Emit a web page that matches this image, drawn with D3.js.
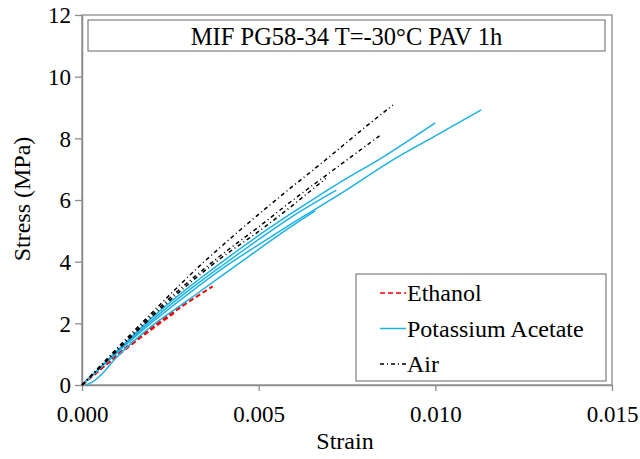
<!DOCTYPE html>
<html>
<head>
<meta charset="utf-8">
<script src="https://cdn.jsdelivr.net/npm/d3@7"></script>
<style>
  body { margin: 0; background: #fff; }
</style>
</head>
<body>
<div id="chart"></div>
<script>
// ---- data (strain, stress MPa) ----
var ethanol1 = [[0,0],[0.0005,0.5],[0.001,0.97],[0.0019,1.8],[0.0028,2.53],[0.0037,3.2]];
var ethanol2 = [[0,0],[0.001,0.99],[0.002,1.88],[0.0029,2.62]];
var ethanol3 = [[0,0],[0.001,0.95],[0.002,1.83],[0.0026,2.33]];

var potassium1 = [[0,0],[0.001,1.12],[0.002,2.2],[0.003,3.15],[0.004,4.02],[0.005,4.85],[0.006,5.62],[0.0072,6.5],[0.0086,7.45],[0.0100,8.5]];
var potassium2 = [[0,0],[0.001,1.08],[0.002,2.12],[0.003,3.05],[0.004,3.9],[0.005,4.72],[0.006,5.5],[0.0072,6.32]];
var potassium3 = [[0,0],[0.001,1.05],[0.002,2.05],[0.003,2.95],[0.004,3.8],[0.005,4.55],[0.006,5.28],[0.0074,6.26],[0.0088,7.3],[0.0100,8.08],[0.0113,8.92]];
var potassium4 = [[0.0001,0],[0.0003,0.1],[0.0006,0.4],[0.0009,0.8],[0.0018,1.75],[0.003,2.75],[0.004,3.58],[0.005,4.4],[0.0058,5.05],[0.0066,5.65]];

var air1 = [[0,0],[0.001,1.2],[0.002,2.37],[0.0033,3.83],[0.0045,5.05],[0.0057,6.2],[0.007,7.4],[0.008,8.35],[0.0088,9.08]];
var air2 = [[0,0],[0.00093,1.07],[0.00218,2.5],[0.00376,4.05],[0.00514,5.25],[0.00579,5.84],[0.00692,6.81],[0.00842,8.08]];
var air3 = [[0,0],[0.001,1.12],[0.0022,2.45],[0.0038,4.0],[0.0052,5.15],[0.0069,6.7]];

var xTicks = [0, 0.005, 0.010, 0.015];
var yTicks = [0, 2, 4, 6, 8, 10, 12];
var seriesNames = ["Ethanol", "Potassium Acetate", "Air"];
var chartTitle = "MIF PG58-34 T=-30°C PAV 1h";

var FONT = "Liberation Serif";

// ---- styles per group ----
var groups = [
  { name: "Ethanol", curves: [ethanol1, ethanol2, ethanol3], color: "#ff0000", dash: "5,3", sw: 2 },
  { name: "Potassium Acetate", curves: [potassium1, potassium2, potassium3, potassium4], color: "#1bb1e7", dash: null, sw: 1.5 },
  { name: "Air", curves: [air1, air2, air3], color: "#000000", dash: "4,3,1,3", sw: 1.5 }
];

var W = 640, H = 459;
var margin = { top: 15, right: 28, bottom: 74, left: 82 },
  width = W - margin.left - margin.right,
  height = H - margin.top - margin.bottom;

var svg = d3.select("#chart")
  .append("svg")
  .attr("width", W)
  .attr("height", H)
  .append("g")
  .attr("transform", "translate(" + margin.left + "," + margin.top + ")");

var x = d3.scaleLinear().domain([0, 0.015]).range([0, width]);
var y = d3.scaleLinear().domain([0, 12]).range([height, 0]);

// plot frame (top and right)
svg.append("rect")
  .attr("x", 0).attr("y", 0)
  .attr("width", width).attr("height", height)
  .style("fill", "none")
  .style("stroke", "#8c8c8c")
  .style("stroke-width", 1.3);

// X axis
var xAxis = svg.append("g")
  .attr("transform", "translate(0," + height + ")")
  .call(d3.axisBottom(x).tickValues(xTicks).tickFormat(d3.format(".3f")).tickSize(6).tickSizeOuter(0).tickPadding(15));

// Y axis
var yAxis = svg.append("g")
  .call(d3.axisLeft(y).tickValues(yTicks).tickFormat(d3.format("d")).tickSize(7).tickSizeOuter(0).tickPadding(4));

[xAxis, yAxis].forEach(function (a) {
  a.select(".domain").style("stroke", "#8c8c8c").style("stroke-width", 1.5);
  a.selectAll(".tick line").style("stroke", "#8c8c8c").style("stroke-width", 1.3);
  a.selectAll(".tick text")
    .style("font-family", FONT)
    .style("font-size", "23px")
    .style("fill", "#000");
});
yAxis.selectAll(".tick text").attr("dy", "0.34em");

// curves
var line = d3.line()
  .x(function (d) { return x(d[0]); })
  .y(function (d) { return y(d[1]); })
  .curve(d3.curveMonotoneX);

groups.forEach(function (g) {
  svg.append("g")
    .selectAll("path")
    .data(g.curves)
    .enter()
    .append("path")
    .attr("d", line)
    .style("fill", "none")
    .style("stroke", g.color)
    .style("stroke-width", g.sw)
    .style("stroke-dasharray", g.dash);
});

// title box
svg.append("rect")
  .attr("x", 6).attr("y", 5)
  .attr("width", 517).attr("height", 31)
  .style("fill", "#fff")
  .style("stroke", "#666")
  .style("stroke-width", 1);
svg.append("text")
  .attr("x", 6 + 517 / 2)
  .attr("y", 21)
  .attr("dy", "0.35em")
  .attr("text-anchor", "middle")
  .style("font-family", FONT)
  .style("font-size", "24.5px")
  .text(chartTitle);

// legend
var lgX = 274, lgY = 259;
svg.append("rect")
  .attr("x", lgX).attr("y", lgY)
  .attr("width", 250).attr("height", 107)
  .style("fill", "#fff")
  .style("stroke", "#666")
  .style("stroke-width", 1);

var lg = svg.selectAll("legend")
  .data(groups)
  .enter()
  .append("g")
  .attr("transform", function (d, i) { return "translate(" + (lgX + 24) + "," + (lgY + 19 + i * 35.5) + ")"; });

lg.append("line")
  .attr("x1", 0).attr("x2", 26)
  .attr("y1", 0).attr("y2", 0)
  .style("stroke", function (d) { return d.color; })
  .style("stroke-width", 1.5)
  .style("stroke-dasharray", function (d) { return d.dash; });

lg.append("text")
  .attr("x", 27)
  .attr("y", 0)
  .attr("dy", "0.35em")
  .style("font-family", FONT)
  .style("font-size", "24px")
  .text(function (d, i) { return seriesNames[i]; });

// axis labels
svg.append("text")
  .attr("x", width / 2 - 2)
  .attr("y", height + 56)
  .attr("dy", "0.35em")
  .attr("text-anchor", "middle")
  .style("font-family", FONT)
  .style("font-size", "24px")
  .text("Strain");

svg.append("text")
  .attr("transform", "translate(" + (22 - margin.left) + "," + 184 + ") rotate(-90)")
  .attr("dy", "0.35em")
  .attr("text-anchor", "middle")
  .style("font-family", FONT)
  .style("font-size", "24px")
  .text("Stress (MPa)");
</script>
</body>
</html>
